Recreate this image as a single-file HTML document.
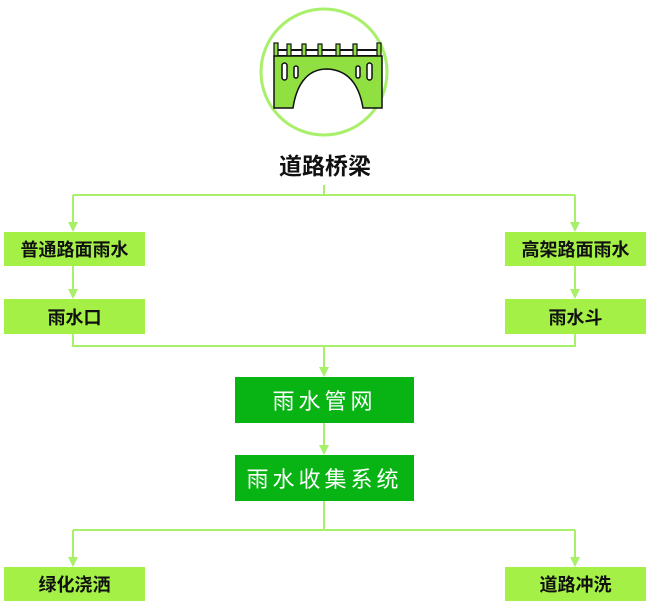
<!DOCTYPE html>
<html><head><meta charset="utf-8"><style>
body{margin:0;background:#fff;width:650px;height:608px;overflow:hidden;position:relative;font-family:"Liberation Sans","Noto Sans CJK SC",sans-serif}
.b{position:absolute;display:flex;align-items:center;justify-content:center;font-size:18px;font-weight:bold;color:#111;background:#a4f046}
.d{position:absolute;display:flex;align-items:center;justify-content:center;font-size:22px;color:#fff;background:#08b414;letter-spacing:4px}
</style></head><body>
<svg width="650" height="608" style="position:absolute;left:0;top:0">
<g stroke="#a8f06a" stroke-width="2" fill="none">
<path d="M324,185V195M73,195H575"/>
<path d="M73,195V225M575,195V225M73,266V292M575,266V292"/>
<path d="M73,334V346H575V334"/>
<path d="M324,346V370M324,423V448"/>
<path d="M324,501V530M73,530H575"/>
<path d="M73,530V560M575,530V560"/>
</g>
<g fill="#a8f06a">
<path d="M68,222H78L73,232z"/><path d="M570,222H580L575,232z"/>
<path d="M68,289H78L73,299z"/><path d="M570,289H580L575,299z"/>
<path d="M319,367H329L324,377z"/><path d="M319,445H329L324,455z"/>
<path d="M68,557H78L73,567z"/><path d="M570,557H580L575,567z"/>
</g>
<circle cx="324" cy="72" r="63" fill="none" stroke="#a8f06a" stroke-width="3"/>
<g stroke="#111" stroke-width="1.5">
<path d="M274,50H381M274,56H381" stroke-width="2"/>
<g fill="#8fe040" stroke-width="1.2">
<rect x="274" y="43" width="4" height="14"/><rect x="287" y="44" width="4" height="13"/><rect x="302" y="44" width="4" height="13"/><rect x="318" y="44" width="4" height="13"/><rect x="336" y="44" width="4" height="13"/><rect x="353" y="44" width="4" height="13"/><rect x="377" y="43" width="4" height="14"/>
</g>
<path d="M274,56H382V108H363C360,90 352,70 327,69C305,69 296,88 293,108H274Z" fill="#8fe040"/>
<rect x="282" y="63" width="5" height="17" rx="2.5" fill="#fff"/>
<rect x="294" y="66" width="4" height="12" rx="2" fill="#fff"/>
<rect x="356" y="66" width="4" height="12" rx="2" fill="#fff"/>
<rect x="367" y="63" width="5" height="17" rx="2.5" fill="#fff"/>
</g>
<text x="325" y="174" text-anchor="middle" font-size="23" font-weight="bold" fill="#111" font-family="Liberation Sans,Noto Sans CJK SC,sans-serif">道路桥梁</text>
</svg>
<div class="b" style="left:4px;top:232px;width:141px;height:34px">普通路面雨水</div>
<div class="b" style="left:4px;top:299px;width:141px;height:35px">雨水口</div>
<div class="b" style="left:505px;top:232px;width:141px;height:34px">高架路面雨水</div>
<div class="b" style="left:505px;top:299px;width:141px;height:35px">雨水斗</div>
<div class="d" style="left:235px;top:377px;width:179px;height:46px">雨水管网</div>
<div class="d" style="left:235px;top:455px;width:179px;height:46px">雨水收集系统</div>
<div class="b" style="left:4px;top:567px;width:141px;height:34px">绿化浇洒</div>
<div class="b" style="left:505px;top:567px;width:141px;height:34px">道路冲洗</div>
</body></html>
